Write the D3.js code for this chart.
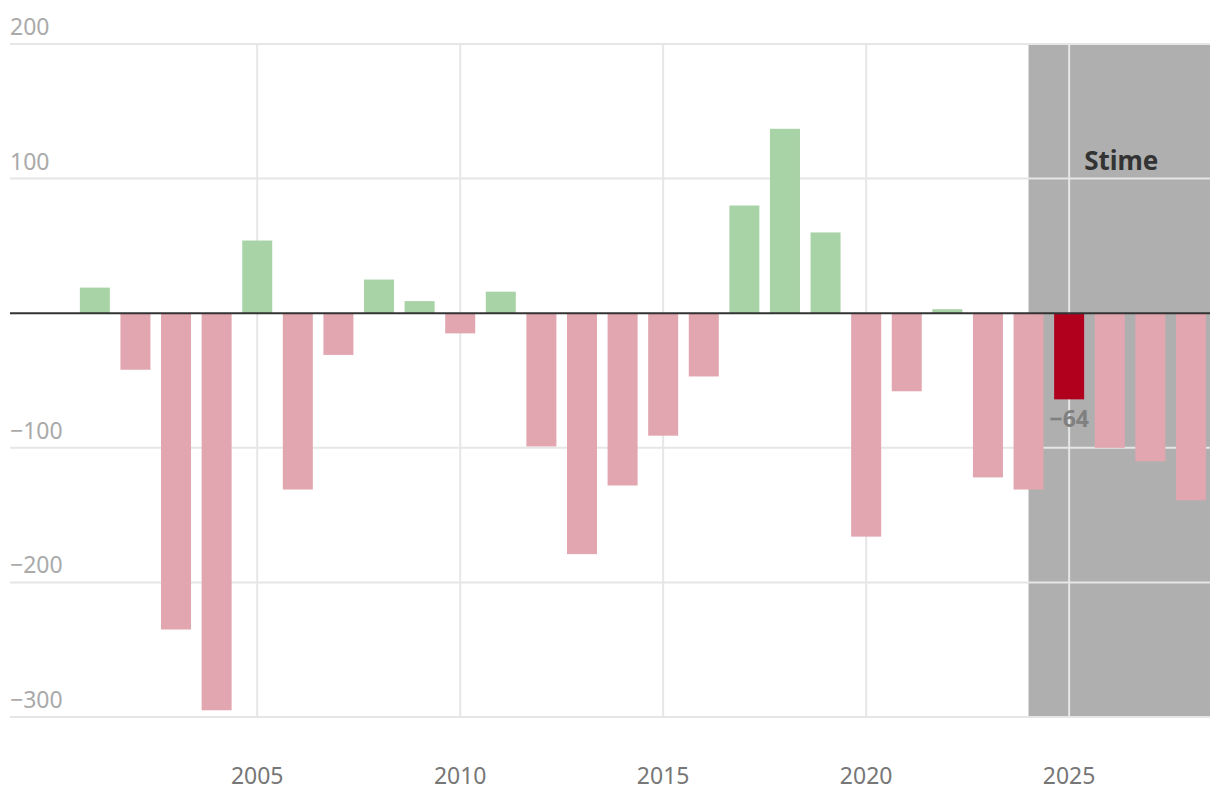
<!DOCTYPE html>
<html>
<head>
<meta charset="utf-8">
<script src="https://cdn.jsdelivr.net/npm/d3@7"></script>
<style>
    body { margin: 0; background: #fff; }
    svg text { font-family: "Noto Sans", "Open Sans", sans-serif; }
</style>
</head>
<body>
<div id="chart"></div>
<script>
// data
const years = [2001, 2002, 2003, 2004, 2005, 2006, 2007, 2008, 2009, 2010,
               2011, 2012, 2013, 2014, 2015, 2016, 2017, 2018, 2019, 2020,
               2021, 2022, 2023, 2024, 2025, 2026, 2027, 2028];
const values = [19, -42, -235, -295, 54, -131, -31, 25, 9, -15,
                16, -99, -179, -128, -91, -47, 80, 137, 60, -166,
                -58, 3, -122, -131, -64, -100, -110, -139];
const yTicks = [200, 100, 0, -100, -200, -300];
const xTicks = [2005, 2010, 2015, 2020, 2025];
const highlightYear = 2025;
const estimateFrom = 2024;
const estimateLabel = "Stime";

const width = 1220, height = 810;

const svg = d3.select("#chart")
    .append("svg")
    .attr("width", width)
    .attr("height", height);

// scales
const x = d3.scaleLinear()
    .domain([1998.91, 2028.47])
    .range([10, 1210]);

const y = d3.scaleLinear()
    .domain([-300, 200])
    .range([717, 44]);

const barWidth = 30;
const fmt = v => (v < 0 ? "\u2212" + Math.abs(v) : String(v));

// estimate band
svg.append("rect")
    .attr("x", x(estimateFrom))
    .attr("y", y(200))
    .attr("width", x.range()[1] - x(estimateFrom))
    .attr("height", y(-300) - y(200))
    .attr("fill", "#afafaf");

// horizontal grid
svg.append("g")
    .selectAll("line")
    .data(yTicks.filter(d => d !== 0))
    .join("line")
    .attr("x1", x.range()[0])
    .attr("x2", x.range()[1])
    .attr("y1", d => y(d))
    .attr("y2", d => y(d))
    .attr("stroke", "#e6e6e6")
    .attr("stroke-width", 2);

// vertical grid
svg.append("g")
    .selectAll("line")
    .data(xTicks)
    .join("line")
    .attr("x1", d => x(d))
    .attr("x2", d => x(d))
    .attr("y1", y(200))
    .attr("y2", y(-300))
    .attr("stroke", "#e6e6e6")
    .attr("stroke-width", 2);

// y labels (no label at zero)
svg.append("g")
    .selectAll("text")
    .data(yTicks.filter(d => d !== 0))
    .join("text")
    .attr("x", 10)
    .attr("y", d => y(d) - 9)
    .attr("font-size", "23px")
    .attr("fill", "#aaaaaa")
    .text(fmt);

// x labels
svg.append("g")
    .selectAll("text")
    .data(xTicks)
    .join("text")
    .attr("x", d => x(d))
    .attr("y", 784)
    .attr("text-anchor", "middle")
    .attr("font-size", "23px")
    .attr("fill", "#777777")
    .text(d => d);

// bars
const data = years.map((yr, i) => ({ year: yr, value: values[i] }));

svg.append("g")
    .selectAll("rect")
    .data(data)
    .join("rect")
    .attr("x", d => x(d.year) - barWidth / 2)
    .attr("width", barWidth)
    .attr("y", d => y(Math.max(0, d.value)))
    .attr("height", d => Math.abs(y(d.value) - y(0)))
    .attr("fill", d => d.year === highlightYear ? "#b0001e" : (d.value >= 0 ? "#a8d3a6" : "#e2a6b0"));

// zero line
svg.append("line")
    .attr("x1", x.range()[0])
    .attr("x2", x.range()[1])
    .attr("y1", y(0))
    .attr("y2", y(0))
    .attr("stroke", "#333333")
    .attr("stroke-width", 2);

// highlighted value label
const hi = data.find(d => d.year === highlightYear);
svg.append("text")
    .attr("x", x(hi.year))
    .attr("y", y(hi.value) + 28)
    .attr("text-anchor", "middle")
    .attr("font-size", "23px")
    .attr("font-weight", "bold")
    .attr("fill", "#808080")
    .text(fmt(hi.value));

// estimate label
svg.append("text")
    .attr("x", (x(estimateFrom) + x.range()[1]) / 2 + 2)
    .attr("y", 170)
    .attr("text-anchor", "middle")
    .attr("font-size", "26px")
    .attr("font-weight", "bold")
    .attr("fill", "#333333")
    .text(estimateLabel);
</script>
</body>
</html>
